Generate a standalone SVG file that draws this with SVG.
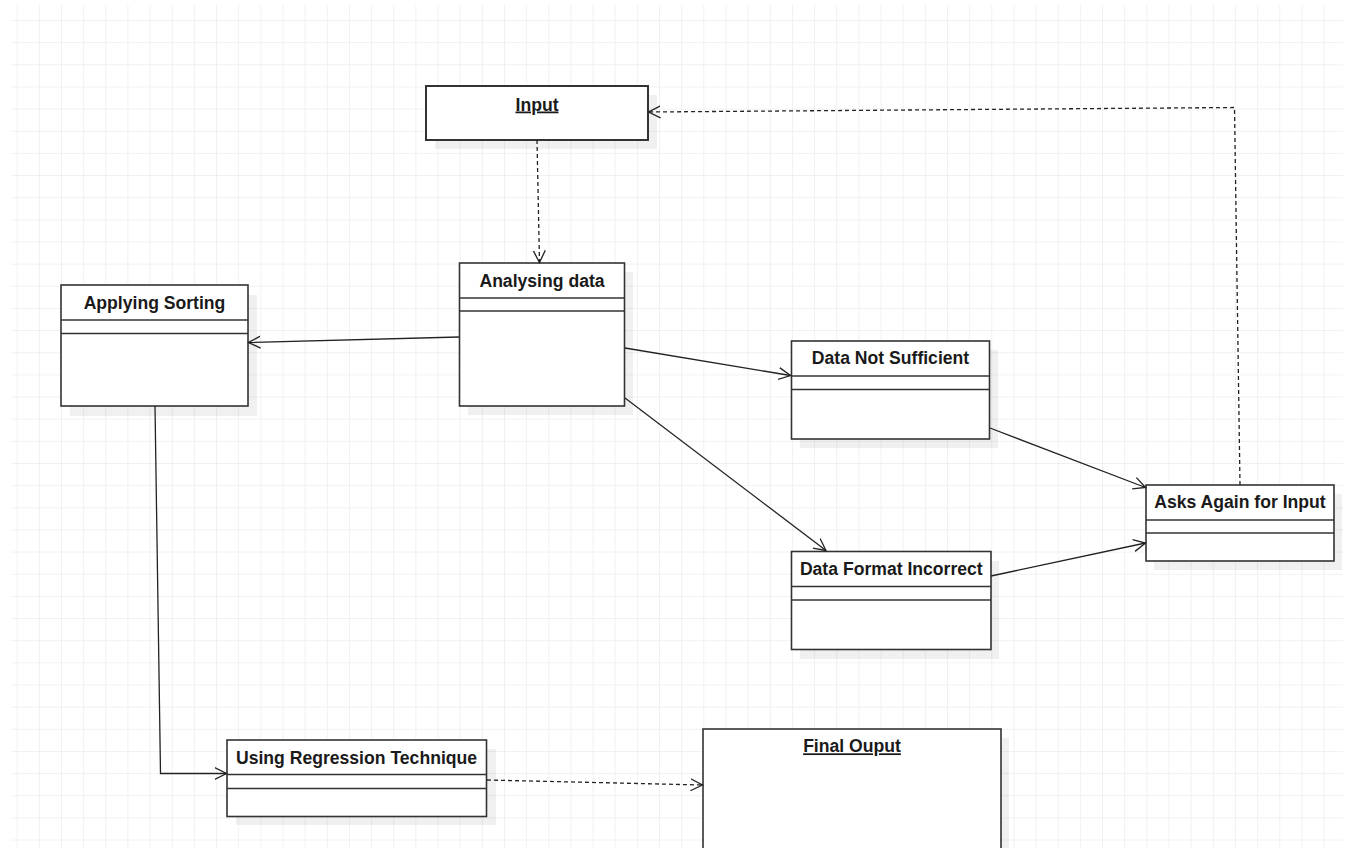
<svg xmlns="http://www.w3.org/2000/svg" width="1349" height="848" viewBox="0 0 1349 848">
<style>
.box{fill:#fff;stroke:#333;stroke-width:1.6}
.sh{fill:#000;fill-opacity:0.06}
.div{stroke:#333;stroke-width:1.5}
.t{font-family:"Liberation Sans",Arial,sans-serif;font-weight:bold;font-size:17.6px;fill:#1a1a1a;text-anchor:middle}
.u{text-decoration:underline}
.c{fill:none;stroke:#222;stroke-width:1.3}
.d{stroke-dasharray:4 3}
</style>
<defs>
<pattern id="grid" x="16.7" y="20" width="22.15" height="22.15" patternUnits="userSpaceOnUse">
<path d="M0,0 V22.15 M0,0 H22.15" fill="none" stroke="#e4e4e4" stroke-width="1"/>
</pattern>
<marker id="arr" markerUnits="userSpaceOnUse" markerWidth="14" markerHeight="14" refX="12" refY="6.5" orient="auto" viewBox="0 0 14 13">
<path d="M0,0.5 L12,6.5 L0,12.5" fill="none" stroke="#222" stroke-width="1.3"/>
</marker>
</defs>
<rect width="1349" height="848" fill="#fff"/>
<rect x="11" y="5" width="1332" height="843" fill="url(#grid)"/>

<g id="input">
<rect class="sh" x="435" y="95" width="222" height="54"/>
<rect class="box" x="426" y="86" width="222" height="54" style="stroke-width:2"/>
<text class="t u" x="537" y="110.5">Input</text>
</g>

<g id="analysing-data">
<rect class="sh" x="468" y="272" width="165" height="143"/>
<rect class="box" x="459.5" y="263" width="165" height="143"/>
<line class="div" x1="459.5" y1="298" x2="624.5" y2="298"/>
<line class="div" x1="459.5" y1="311" x2="624.5" y2="311"/>
<text class="t" x="542" y="286.5">Analysing data</text>
</g>

<g id="applying-sorting">
<rect class="sh" x="70" y="295" width="187" height="121"/>
<rect class="box" x="61" y="285" width="187" height="121"/>
<line class="div" x1="61" y1="320" x2="248" y2="320"/>
<line class="div" x1="61" y1="333.5" x2="248" y2="333.5"/>
<text class="t" x="154.5" y="309.3">Applying Sorting</text>
</g>

<g id="data-not-sufficient">
<rect class="sh" x="800" y="350" width="198" height="98"/>
<rect class="box" x="791.5" y="341" width="198" height="98"/>
<line class="div" x1="791.5" y1="376" x2="989.5" y2="376"/>
<line class="div" x1="791.5" y1="389.5" x2="989.5" y2="389.5"/>
<text class="t" x="890.5" y="364.3">Data Not Sufficient</text>
</g>

<g id="asks-again">
<rect class="sh" x="1154" y="494" width="188" height="76"/>
<rect class="box" x="1146" y="485" width="188" height="76"/>
<line class="div" x1="1146" y1="520" x2="1334" y2="520"/>
<line class="div" x1="1146" y1="533" x2="1334" y2="533"/>
<text class="t" x="1240" y="508.3">Asks Again for Input</text>
</g>

<g id="data-format-incorrect">
<rect class="sh" x="800" y="561" width="199" height="98"/>
<rect class="box" x="791.5" y="551.5" width="199.5" height="98"/>
<line class="div" x1="791.5" y1="586.5" x2="991" y2="586.5"/>
<line class="div" x1="791.5" y1="600" x2="991" y2="600"/>
<text class="t" x="891.3" y="574.7">Data Format Incorrect</text>
</g>

<g id="using-regression">
<rect class="sh" x="236" y="749" width="260" height="76"/>
<rect class="box" x="227" y="740" width="259.5" height="76.5"/>
<line class="div" x1="227" y1="774.5" x2="486.5" y2="774.5"/>
<line class="div" x1="227" y1="788.5" x2="486.5" y2="788.5"/>
<text class="t" x="356.5" y="763.7">Using Regression Technique</text>
</g>

<g id="final-output">
<rect class="sh" x="711" y="738" width="298" height="120"/>
<rect class="box" x="703" y="729" width="298" height="130"/>
<text class="t u" x="852" y="752.3">Final Ouput</text>
</g>

<g id="connectors">
<path class="c d" d="M537,140 L539.5,262.5" marker-end="url(#arr)"/>
<path class="c" d="M459,337 L248.5,342.5" marker-end="url(#arr)"/>
<path class="c" d="M625,348 L790.5,375.5" marker-end="url(#arr)"/>
<path class="c" d="M625,398 L826,550.5" marker-end="url(#arr)"/>
<path class="c" d="M990,428 L1145.5,487.5" marker-end="url(#arr)"/>
<path class="c" d="M991,576 L1145.5,543" marker-end="url(#arr)"/>
<path class="c d" d="M1240,485 L1234.5,107.5 L648.5,112" marker-end="url(#arr)"/>
<path class="c" d="M155,406 L160.5,773.5 L226.5,773.5" marker-end="url(#arr)"/>
<path class="c d" d="M487,780 L702.5,785" marker-end="url(#arr)"/>
</g>
</svg>
